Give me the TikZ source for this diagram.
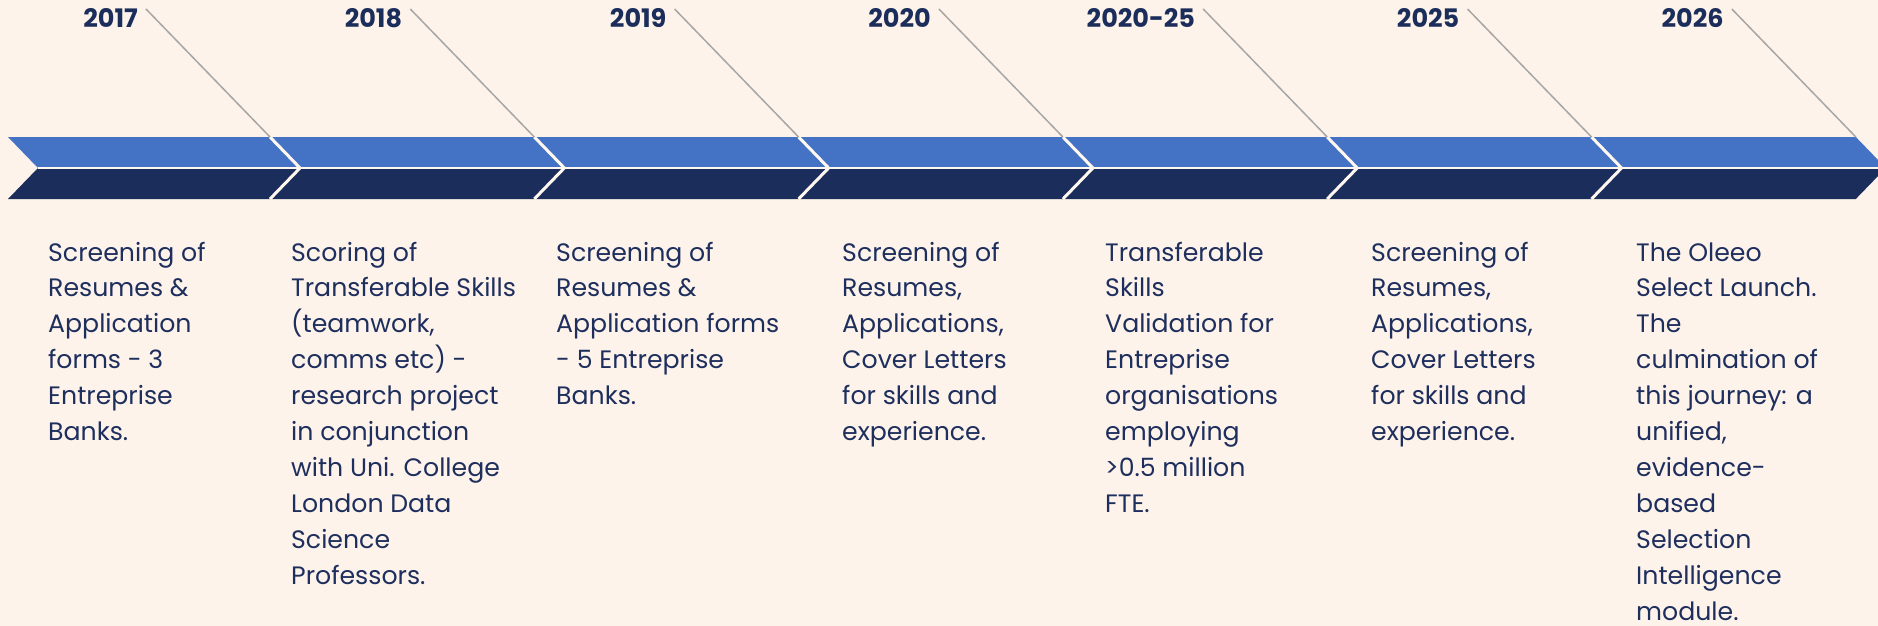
\documentclass[tikz,border=0pt]{standalone}
\usepackage{fontspec}
\setmainfont{Poppins}
\definecolor{bg}{HTML}{FDF3EA}
\definecolor{lightblue}{HTML}{4472C4}
\definecolor{navy}{HTML}{1B2D5A}
\definecolor{txt}{HTML}{1E2F5E}
\definecolor{leader}{HTML}{A6A6A6}
\definecolor{sepcol}{HTML}{FFF8F0}
\tikzset{
  yearlabel/.style={anchor=base east, inner sep=0pt, text=navy, font=\fontsize{25.5}{30}\selectfont\bfseries},
  desc/.style={anchor=base west, inner sep=0pt, text=txt},
  leaderline/.style={draw=leader, line width=1.5pt},
  sepline/.style={draw=sepcol, line width=3pt},
}
\newcommand{\desctext}[1]{\parbox[t]{320pt}{\fontsize{25.2}{35.9}\selectfont\raggedright #1}}
\begin{document}
\begin{tikzpicture}[x=1pt,y=-1pt]
\useasboundingbox (0,0) rectangle (1878,626);
\fill[bg] (0,0) rectangle (1878,626);
\clip (0,0) rectangle (1878,626);
% chevron segments
\foreach \k in {0,...,6} {
  \pgfmathsetmacro\T{300+264.3*\k}
  \pgfmathsetmacro\L{\k==0 ? 8 : 300+264.3*(\k-1)-30}
  \coordinate (tip\k) at (\T,168);
  \coordinate (ctop\k) at (\T-30,137);
  \coordinate (cbot\k) at (\T-30,199);
  \fill[lightblue] (\L,137) -- (ctop\k) -- (tip\k) -- (\L+30,168) -- cycle;
  \fill[navy] (\L+30,168) -- (tip\k) -- (cbot\k) -- (\L,199) -- cycle;
  \coordinate (ls\k) at (\T-154,9);
}
\draw[draw=sepcol, line width=2pt] (38,168) -- (1878,168);
\foreach \k in {0,...,5} {
  \draw[sepline] (ctop\k) -- (tip\k) -- (cbot\k);
}
\foreach \k in {0,...,6} {
  \draw[leaderline] (ls\k) -- (ctop\k);
}
% year labels
\foreach \k/\yr in {0/2017,1/2018,2/2019,3/2020,4/2020-25,5/2025,6/2026} {
  \node[yearlabel] (y\k) at ([xshift=-8pt,yshift=-19pt]ls\k) {\yr};
}
% descriptions
\node[desc] (d0) at (48,261) {\desctext{Screening of\\Resumes \&\\Application\\forms - 3\\Entreprise\\Banks.}};
\node[desc] (d1) at (291,261) {\desctext{Scoring of\\Transferable Skills\\(teamwork,\\comms etc) -\\research project\\in conjunction\\with Uni. College\\London Data\\Science\\Professors.}};
\node[desc] (d2) at (556,261) {\desctext{Screening of\\Resumes \&\\Application forms\\- 5 Entreprise\\Banks.}};
\node[desc] (d3) at (842,261) {\desctext{Screening of\\Resumes,\\Applications,\\Cover Letters\\for skills and\\experience.}};
\node[desc] (d4) at (1105,261) {\desctext{Transferable\\Skills\\Validation for\\Entreprise\\organisations\\employing\\>0.5 million\\FTE.}};
\node[desc] (d5) at (1371,261) {\desctext{Screening of\\Resumes,\\Applications,\\Cover Letters\\for skills and\\experience.}};
\node[desc] (d6) at (1636,261) {\desctext{The Oleeo\\Select Launch.\\The\\culmination of\\this journey: a\\unified,\\evidence-\\based\\Selection\\Intelligence\\module.}};
\end{tikzpicture}
\end{document}
